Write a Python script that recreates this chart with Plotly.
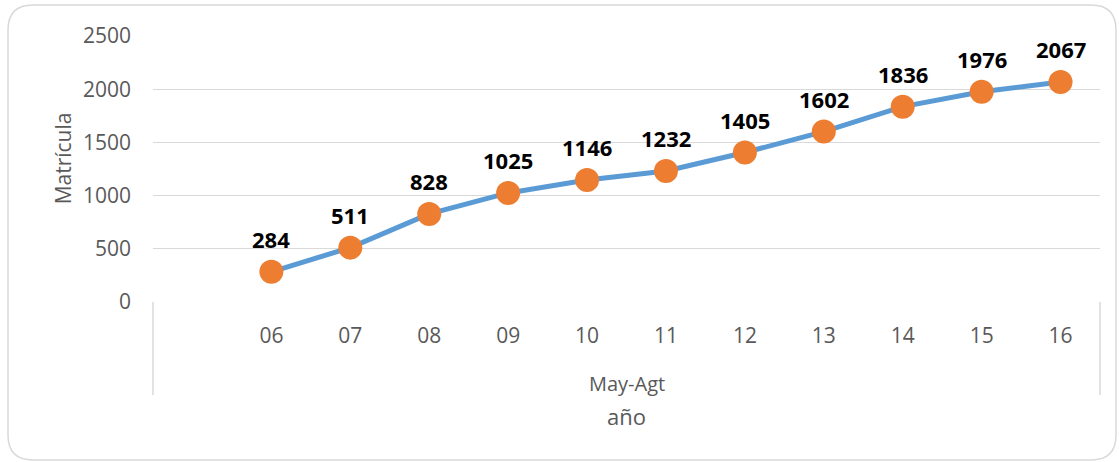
import plotly.graph_objects as go

years = ["06", "07", "08", "09", "10", "11", "12", "13", "14", "15", "16"]
matricula = [284, 511, 828, 1025, 1146, 1232, 1405, 1602, 1836, 1976, 2067]
group_label = "May-Agt"
x_title = "año"
y_title = "Matrícula"
y_ticks = [0, 500, 1000, 1500, 2000, 2500]

# first category slot is empty in the original, so categories sit at 1..11
xpos = list(range(1, len(years) + 1))

FONT = "Open Sans"
GRAY = "#595959"
GRID = "#d9d9d9"

fig = go.Figure()
fig.add_trace(go.Scatter(
    x=xpos, y=matricula,
    mode="lines+markers",
    line=dict(color="#5b9bd5", width=5),
    marker=dict(color="#ed7d31", size=24, line=dict(width=0)),
    cliponaxis=False,
    showlegend=False,
))

annotations = [
    dict(x=xp, y=v, xref="x", yref="y", text=str(v), showarrow=False,
         yshift=33, xanchor="center", yanchor="middle",
         font=dict(family=FONT, size=22, color="black", weight="bold"))
    for xp, v in zip(xpos, matricula)
]
annotations += [
    dict(text=y_title, xref="paper", yref="paper", x=0, y=0.54,
         xshift=-90, xanchor="center", yanchor="middle", textangle=-90,
         showarrow=False, font=dict(family=FONT, size=21, color=GRAY)),
    dict(text=group_label, xref="paper", yref="paper", x=0.5, y=0,
         yshift=-81, xanchor="center", yanchor="middle",
         showarrow=False, font=dict(family=FONT, size=20, color=GRAY)),
    dict(text=x_title, xref="paper", yref="paper", x=0.5, y=0,
         yshift=-114, xanchor="center", yanchor="middle",
         showarrow=False, font=dict(family=FONT, size=22, color=GRAY)),
]

fig.update_layout(
    width=1119, height=462,
    margin=dict(l=153, r=19, t=36, b=160),
    paper_bgcolor="white", plot_bgcolor="white",
    font=dict(family=FONT, color=GRAY),
    xaxis=dict(
        range=[-0.5, len(years) + 0.5],
        tickvals=xpos, ticktext=years,
        tickfont=dict(family=FONT, size=21, color=GRAY),
        showgrid=False, zeroline=False, showline=False,
        ticklabelstandoff=19,
    ),
    yaxis=dict(
        range=[0, 2500],
        tickvals=y_ticks,
        tickfont=dict(family=FONT, size=21, color=GRAY),
        showgrid=True, gridcolor=GRID, gridwidth=1.3,
        zeroline=False, showline=False,
        ticklabelstandoff=21,
    ),
    annotations=annotations,
)

# group separators of the two-level category axis
for xp in (0, 1):
    fig.add_shape(type="line", xref="paper", yref="paper", x0=xp, x1=xp,
                  ysizemode="pixel", yanchor=0, y0=0, y1=-93,
                  line=dict(color=GRID, width=1.5))

# rounded chart-area border
r = 25
L, R, T, B = -145, 963, 297, -158
path = (f"M {L+r},{T} L {R-r},{T} Q {R},{T} {R},{T-r} L {R},{B+r} Q {R},{B} {R-r},{B} "
        f"L {L+r},{B} Q {L},{B} {L},{B+r} L {L},{T-r} Q {L},{T} {L+r},{T} Z")
fig.add_shape(type="path", xref="paper", yref="paper",
              xsizemode="pixel", ysizemode="pixel", xanchor=0, yanchor=0,
              path=path, line=dict(color=GRID, width=1.5))

fig.write_html("out.html", config={"displayModeBar": False},
               post_script="document.body.style.margin='0';")
